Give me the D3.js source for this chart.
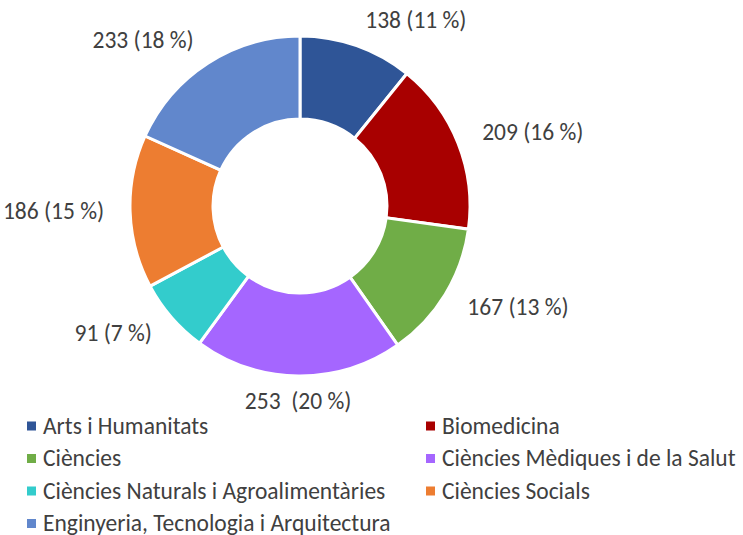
<!DOCTYPE html>
<html>
<head>
    <meta charset="utf-8">
    <title>Donut</title>
    <script type="text/javascript" src="https://cdn.jsdelivr.net/npm/d3@7"></script>
    <style>
        body { margin: 0; background: #fff; }
        text { font-family: Carlito, Calibri, "Open Sans", sans-serif; fill: #404040; }
    </style>
</head>
<body>
<script type="text/javascript">
    var categories = ["Arts i Humanitats", "Biomedicina", "Ciències", "Ciències Mèdiques i de la Salut",
            "Ciències Naturals i Agroalimentàries", "Ciències Socials", "Enginyeria, Tecnologia i Arquitectura"];
    var values = [138, 209, 167, 253, 91, 186, 233];
    var labels = ["138 (11 %)", "209 (16 %)", "167 (13 %)", "253  (20 %)", "91 (7 %)", "186 (15 %)", "233 (18 %)"];
    var palette = ["#2F5597", "#A80000", "#70AD47", "#A566FF", "#33CCCC", "#ED7D31", "#6187CC"];

    var w = 743, h = 535,
            cx = 300, cy = 206,
            outerR = 170, innerR = 87, labelR = 196;

    var color = d3.scaleOrdinal().domain(categories).range(palette);

    var svg = d3.select("body").append("svg")
            .attr("width", w)
            .attr("height", h);

    var data = categories.map(function (c, i) {
        return {name: c, value: values[i], label: labels[i]};
    });

    var pie = d3.pie().sort(null).value(function (d) { return d.value; });
    var arc = d3.arc().innerRadius(innerR).outerRadius(outerR);
    var arcs = pie(data);

    var g = svg.append("g").attr("transform", "translate(" + cx + "," + cy + ")");

    g.selectAll("path")
        .data(arcs)
      .enter().append("path")
        .attr("d", arc)
        .style("fill", function (d) { return color(d.data.name); })
        .style("stroke", "#fff")
        .style("stroke-width", 3);

    g.selectAll("text.lbl")
        .data(arcs)
      .enter().append("text")
        .attr("class", "lbl")
        .attr("x", function (d) { return labelR * Math.sin((d.startAngle + d.endAngle) / 2); })
        .attr("y", function (d) { return -labelR * Math.cos((d.startAngle + d.endAngle) / 2); })
        .attr("dy", "0.28em")
        .attr("text-anchor", function (d) {
            var s = Math.sin((d.startAngle + d.endAngle) / 2);
            return s > 0.1 ? "start" : (s < -0.1 ? "end" : "middle");
        })
        .style("font-size", "23.5px")
        .style("white-space", "pre")
        .text(function (d) { return d.data.label; });

    // legend, two columns
    var legend = svg.selectAll("g.legend")
        .data(categories)
      .enter().append("g")
        .attr("class", "legend")
        .attr("transform", function (d, i) {
            return "translate(" + (i % 2 ? 426 : 27) + "," + (426 + Math.floor(i / 2) * 32.5) + ")";
        });

    legend.append("rect")
        .attr("x", 0).attr("y", -4.5)
        .attr("width", 9).attr("height", 9)
        .style("fill", function (d) { return color(d); });

    legend.append("text")
        .attr("x", 16)
        .attr("dy", "0.33em")
        .style("font-size", "23.5px")
        .text(function (d) { return d; });
</script>
</body>
</html>
